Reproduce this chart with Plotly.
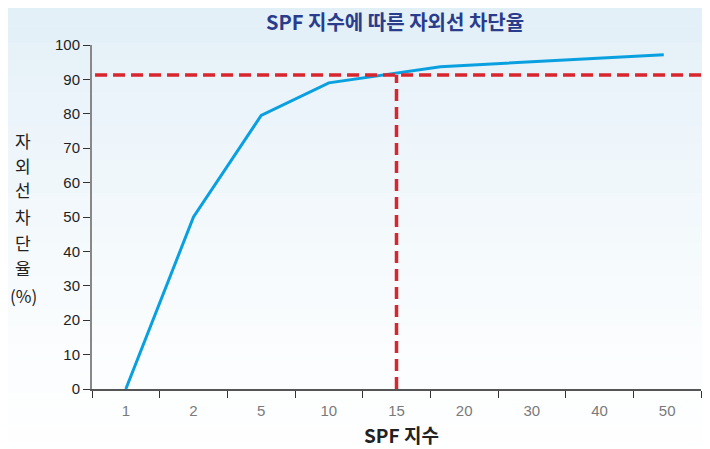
import plotly.graph_objects as go

# ---- data ----
categories = ["1", "2", "5", "10", "15", "20", "30", "40", "50"]
# line vertices: position along the category axis (index units) and block rate (%)
line_pos = [0, 1, 2, 3, 4.65, 7.95]
block_rate = [0, 50, 79.5, 89.0, 93.7, 97.2]
ref_index = 4          # SPF 15
ref_value = 91.3       # reference level (%)
y_ticks = [0, 10, 20, 30, 40, 50, 60, 70, 80, 90, 100]

title_text = "SPF 지수에 따른 자외선 차단율"
x_title = "SPF 지수"
y_title_chars = ["자", "외", "선", "차", "단", "율", "(%)"]

W, H = 702, 441
L, R, T, B = 84, 9, 37, 60
pw, ph = W - L - R, H - T - B

fig = go.Figure()

# soft sky-blue gradient background (bands)
n = 30
for i in range(n):
    t = i / n
    a = 0.6 * (1 - t) ** 1.6
    fig.add_shape(type="rect", xref="paper", yref="paper",
                  x0=-0.2, x1=1.1, y0=1.15 - (i + 1) * 1.45 / n, y1=1.15 - i * 1.45 / n,
                  line_width=0, fillcolor=f"rgba(205,228,242,{a:.3f})", layer="below")

fig.add_trace(go.Scatter(
    x=line_pos, y=block_rate, mode="lines",
    line=dict(color="#0aa0e0", width=3),
    hoverinfo="skip", showlegend=False, cliponaxis=False))

# reference dashed lines
fig.add_shape(type="line", xref="paper", yref="y", x0=0.005, x1=1.03,
              y0=ref_value, y1=ref_value,
              line=dict(color="#d9262e", width=3.5, dash="12px,6px"))
fig.add_shape(type="line", xref="x", yref="y", x0=ref_index, x1=ref_index,
              y0=0, y1=ref_value,
              line=dict(color="#d9262e", width=3.5, dash="12px,6px"))

fig.update_layout(
    width=W, height=H,
    margin=dict(l=L, r=R, t=T, b=B, autoexpand=False),
    paper_bgcolor="white", plot_bgcolor="rgba(0,0,0,0)",
    font=dict(family="Liberation Sans, Arial, sans-serif"),
    xaxis=dict(range=[-0.5, 8.5], tickvals=list(range(len(categories))),
               ticktext=categories, ticks="", showgrid=False, zeroline=False,
               showline=True, linecolor="#555", linewidth=1.5,
               tickfont=dict(size=15, color="#7a7a7a"), ticklabelstandoff=7,
               minor=dict(tickvals=[i - 0.5 for i in range(len(categories) + 1)],
                          ticks="outside", ticklen=7, tickcolor="#333", tickwidth=1.2,
                          showgrid=False),
               fixedrange=True),
    yaxis=dict(range=[0, 100], tickvals=y_ticks, ticks="outside", ticklen=7,
               tickcolor="#333", tickwidth=1.2, showgrid=False, zeroline=False,
               showline=True, linecolor="#888", linewidth=2,
               tickfont=dict(size=15, color="#1e1e1e"), fixedrange=True),
)

def px_x(x):
    return (x - L) / pw

def px_y(y):
    return 1 - (y - T) / ph

# title (positions in figure pixels)
fig.add_annotation(text=f"<b>{title_text}</b>", xref="paper", yref="paper",
                   x=px_x(387), y=px_y(13), xanchor="center", yanchor="middle",
                   showarrow=False,
                   font=dict(family="Noto Sans CJK KR, sans-serif", size=20, color="#2a3c8c"))
fig.add_annotation(text=f"<b>{x_title}</b>", xref="paper", yref="paper",
                   x=px_x(393), y=px_y(426), xanchor="center", yanchor="middle",
                   showarrow=False,
                   font=dict(family="Noto Sans CJK KR, sans-serif", size=19, color="#222"))
y_char_pos = [132, 157, 181, 208, 234, 259, 287]
for ch, yy in zip(y_title_chars, y_char_pos):
    fig.add_annotation(text=ch, xref="paper", yref="paper",
                       x=px_x(15), y=px_y(yy), xanchor="center", yanchor="middle",
                       showarrow=False,
                       font=dict(family="Noto Sans CJK KR, sans-serif", size=17, color="#222"))

fig.write_html("out.html")
